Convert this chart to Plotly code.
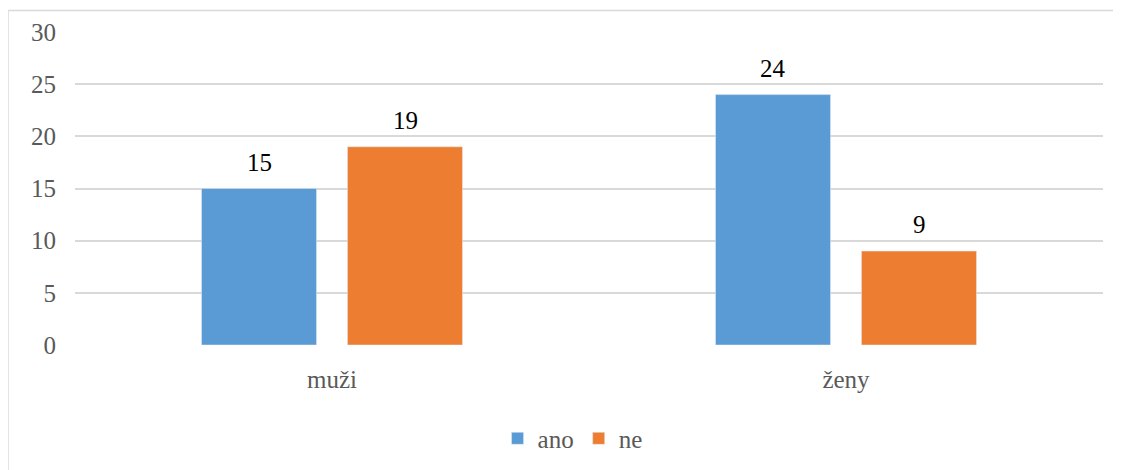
import plotly.graph_objects as go

categories = ["muži", "ženy"]
ano = [15, 24]
ne = [19, 9]

FONT = "Times New Roman, Liberation Serif, serif"
GRAY = "#595959"

fig = go.Figure()
fig.add_trace(go.Bar(x=categories, y=ano, name="ano", marker_color="#5B9BD5", offsetgroup="ano"))
fig.add_trace(go.Bar(x=categories, y=ne, name="ne", marker_color="#ED7D31", offsetgroup="ne"))

# data labels a bit higher above the bars than plotly's default outside text
for vals, shift in [(ano, -73), (ne, 73)]:
    for cat, v in zip(categories, vals):
        fig.add_annotation(x=cat, y=v, text=str(v), showarrow=False, xshift=shift,
                           yanchor="bottom", yshift=11,
                           font=dict(color="black", size=25, family=FONT))

fig.update_layout(
    width=1113, height=462,
    margin=dict(l=67, r=18, t=24, b=125),
    paper_bgcolor="white", plot_bgcolor="white",
    font=dict(family=FONT, size=25, color=GRAY),
    barmode="group", bargap=0.432, bargroupgap=0.212,
    showlegend=True,
    legend=dict(orientation="h", x=0.484, xanchor="center",
                yref="container", y=0.068, yanchor="middle",
                font=dict(size=25, color=GRAY, family=FONT), itemwidth=30),
    shapes=[dict(type="rect", xref="paper", yref="paper",
                 x0=-0.0652, x1=1.03, y0=-0.5, y1=1.069,
                 line=dict(color="#d9d9d9", width=1.5), layer="below")],
)
fig.update_yaxes(range=[0, 30], dtick=5, showgrid=True, gridcolor="#d9d9d9", gridwidth=1.5,
                 zeroline=False, showline=False, ticklabelstandoff=18)
fig.update_xaxes(showline=False, ticks="", ticklabelstandoff=17)

fig.write_html("out.html")
